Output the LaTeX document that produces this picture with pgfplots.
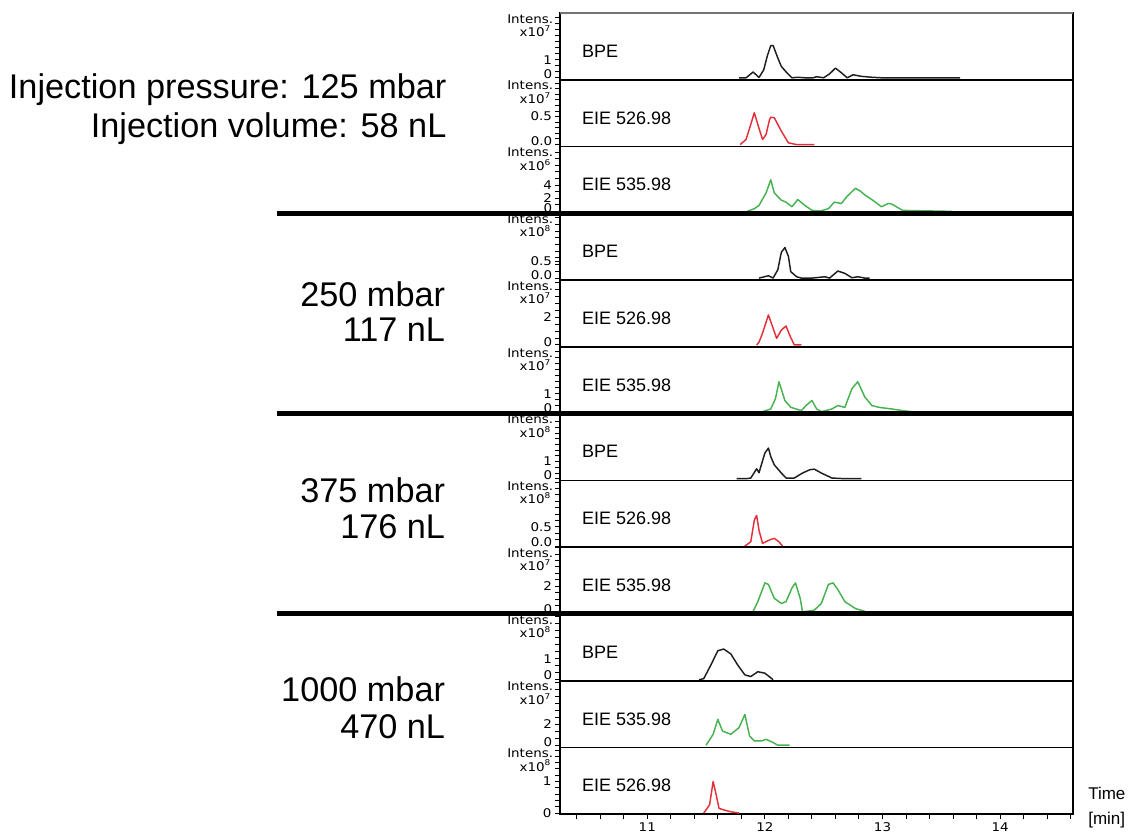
\documentclass[border=0pt]{standalone}
\usepackage{pgfplots}
\pgfplotsset{compat=1.18}
\usepackage{pgfplotstable}
\usepackage{fontspec}
\setmainfont{Liberation Sans}
\newfontfamily\tickfam{DejaVu Sans}[FakeStretch=1.12]
\newcommand\tickfont{\tickfam\fontsize{9}{10}\selectfont}
\newcommand\labfont{\fontsize{13.5}{15}\selectfont}
\newcommand\bigfont{\fontsize{25.7}{30}\selectfont}
\definecolor{trblack}{RGB}{30,30,30}
\definecolor{trred}{RGB}{228,48,58}
\definecolor{trgreen}{RGB}{70,178,80}

% ---- group 1: 125 mbar ----
\pgfplotstableread{
t v
11.78 0
11.84 0
11.90 0.32
11.95 0.02
11.99 0.44
12.02 1.2
12.05 1.79
12.07 1.79
12.11 1.1
12.14 0.63
12.18 0.33
12.23 0
12.28 0.03
12.34 0
12.41 0
12.44 0.06
12.50 0
12.55 0.22
12.60 0.54
12.65 0.28
12.70 0
12.75 0.17
12.82 0.08
12.91 0.03
12.99 0
13.66 0
}\dA
\pgfplotstableread{
t v
11.79 0
11.84 0.09
11.88 0.36
11.91 0.57
11.94 0.36
11.98 0.09
12.01 0.18
12.04 0.45
12.05 0.49
12.08 0.48
12.11 0.36
12.14 0.24
12.20 0.03
12.27 0
12.42 0
}\dB
\pgfplotstableread{
t v
11.85 0
11.91 0.4
11.95 0.9
12.01 2.8
12.05 4.8
12.08 2.8
12.14 1.7
12.18 1.4
12.23 0.7
12.28 1.8
12.34 0.9
12.40 0.15
12.47 0.05
12.54 0.4
12.59 1.4
12.65 1.2
12.70 2.3
12.77 3.5
12.81 3.1
12.85 2.5
12.94 1.4
12.99 0.7
13.05 1.2
13.08 1.1
13.17 0.15
13.59 0
}\dC
% ---- group 2: 250 mbar ----
\pgfplotstableread{
t v
11.95 0
12.03 0.07
12.07 0
12.11 0.25
12.14 0.77
12.17 0.91
12.20 0.65
12.22 0.19
12.27 0.04
12.31 0
12.40 0
12.51 0.04
12.55 0
12.62 0.21
12.68 0.14
12.74 0.01
12.79 0.04
12.85 0
12.89 0
}\dD
\pgfplotstableread{
t v
11.93 0
11.95 0.2
11.98 0.85
12.03 2.17
12.07 1.2
12.10 0.48
12.14 1.08
12.18 1.37
12.21 0.72
12.25 0
12.31 0
}\dE
\pgfplotstableread{
t v
11.98 0
12.05 0.15
12.09 0.73
12.12 1.66
12.17 0.62
12.22 0.24
12.31 0.06
12.35 0.34
12.40 0.62
12.44 0.15
12.48 0
12.57 0.15
12.62 0.34
12.68 0.24
12.74 1.28
12.79 1.66
12.85 0.81
12.91 0.34
12.97 0.24
13.08 0.15
13.17 0.06
13.25 0
}\dF
% ---- group 3: 375 mbar ----
\pgfplotstableread{
t v
11.76 0
11.84 0
11.88 0.04
11.93 0.58
11.95 0.35
12.00 1.5
12.03 1.79
12.05 1.29
12.08 0.81
12.14 0.33
12.18 0.04
12.25 0.04
12.32 0.33
12.38 0.52
12.42 0.56
12.48 0.33
12.57 0.04
12.68 0
12.82 0
}\dG
\pgfplotstableread{
t v
11.83 0
11.88 0.11
11.91 0.67
11.93 0.8
11.95 0.41
11.98 0.07
12.04 0.16
12.08 0.2
12.12 0.11
12.15 0
}\dH
\pgfplotstableread{
t v
11.90 0.05
11.94 0.8
12.00 2.26
12.03 2.14
12.08 1.06
12.14 0.66
12.18 0.8
12.23 1.86
12.26 2.26
12.30 1.06
12.32 0
12.42 0.14
12.48 0.66
12.54 2.14
12.58 2.26
12.62 1.74
12.68 0.8
12.77 0.26
12.85 0.05
}\dI
% ---- group 4: 1000 mbar ----
\pgfplotstableread{
t v
11.44 0
11.48 0.05
11.54 0.69
11.60 1.38
11.65 1.46
11.71 1.23
11.77 0.69
11.83 0.23
11.88 0.15
11.94 0.38
12.00 0.31
12.07 0
}\dJ
\pgfplotstableread{
t v
11.50 0
11.56 1.05
11.60 2.48
11.64 1.36
11.71 1.05
11.78 1.69
11.83 2.95
11.87 0.89
11.91 0.41
11.97 0.41
12.01 0.57
12.07 0.26
12.11 0
12.21 0
}\dK
\pgfplotstableread{
t v
11.48 0
11.53 0.26
11.56 1.0
11.58 0.68
11.61 0.15
11.65 0.1
11.71 0.04
11.78 0
}\dL

\pgfplotsset{
  panel/.style={
    scale only axis, width=385pt, height=50.08pt,
    at={(419.8pt,#1)}, anchor=south west,
    xmin=10.256, xmax=14.62,
    xtick=\empty,
    ytick pos=left,
    tick align=outside,
    major tick length=3.2pt,
    major tick style={black, line width=0.75pt},
    extra y tick labels={},
    extra y tick style={tick style={black!80, line width=0.7pt}},
    axis line style={line width=1.2pt},
    yticklabel style={font=\tickfont, inner sep=0pt, xshift=-2.4pt},
    clip=false,
    /pgf/number format/assume math mode=true,
    every axis plot/.append style={line width=1.1pt, line join=round, mark=none},
  },
}
% #1 exponent, #2 trace name, #3 zero label
\newcommand\paneltext[3]{%
  \node[anchor=east,font=\tickfont,inner sep=0pt] at ([xshift=-4.8pt,yshift=-4.4pt]rel axis cs:0,1) {Intens.};
  \node[anchor=east,font=\tickfont,inner sep=0pt] at ([xshift=-6.3pt,yshift=-13.6pt]rel axis cs:0,1) {x10\textsuperscript{#1}};
  \node[anchor=west,font=\labfont,inner sep=0pt] at (rel axis cs:0.043,0.43) {#2};
  \node[anchor=east,font=\tickfont,inner sep=0pt] at ([xshift=-5.4pt,yshift=3.9pt]rel axis cs:0,0) {#3};
}

\begin{document}
\begin{tikzpicture}
\useasboundingbox (0,0) rectangle (856.5pt,624.75pt);

% 1
\begin{axis}[panel=564.91pt, ymin=-0.11, ymax=3.6, ytick={0,1}, yticklabels={,1},
  extra y ticks={0.3333,0.6667,1.3333,1.6667,2,2.3333,2.6667,3,3.3333}]
\addplot[trblack] table[x=t,y=v] {\dA};
\paneltext{7}{BPE}{0}
\draw[black!55, line width=1.1pt] (rel axis cs:0,1) -- (rel axis cs:1,1);
\end{axis}
% 2
\begin{axis}[panel=514.83pt, ymin=-0.036, ymax=1.16, ytick={0,0.5}, yticklabels={,0.5},
  extra y ticks={0.1,0.2,0.3,0.4,0.6,0.7,0.8,0.9,1.0,1.1}]
\addplot[trred] table[x=t,y=v] {\dB};
\paneltext{7}{EIE 526.98}{0.0}
\end{axis}
% 3
\begin{axis}[panel=464.75pt, ymin=-0.3, ymax=9.85, ytick={0,2,4}, yticklabels={,2,4},
  extra y ticks={1,3,5,6,7,8,9}]
\addplot[trgreen] table[x=t,y=v] {\dC};
\paneltext{6}{EIE 535.98}{0}
\end{axis}
% 4
\begin{axis}[panel=414.67pt, ymin=-0.06, ymax=1.93, ytick={0,0.5}, yticklabels={,0.5},
  extra y ticks={0.2,0.4,0.6,0.8,1.0,1.2,1.4,1.6,1.8}]
\addplot[trblack] table[x=t,y=v] {\dD};
\paneltext{8}{BPE}{0.0}
\end{axis}
% 5
\begin{axis}[panel=364.59pt, ymin=-0.14, ymax=4.69, ytick={0,2}, yticklabels={,2},
  extra y ticks={0.5,1,1.5,2.5,3,3.5,4,4.5}]
\addplot[trred] table[x=t,y=v] {\dE};
\paneltext{7}{EIE 526.98}{0}
\end{axis}
% 6
\begin{axis}[panel=314.51pt, ymin=-0.11, ymax=3.6, ytick={0,1}, yticklabels={,1},
  extra y ticks={0.3333,0.6667,1.3333,1.6667,2,2.3333,2.6667,3,3.3333}]
\addplot[trgreen] table[x=t,y=v] {\dF};
\paneltext{7}{EIE 535.98}{0}
\end{axis}
% 7
\begin{axis}[panel=264.43pt, ymin=-0.1, ymax=3.8, ytick={0,1}, yticklabels={,1},
  extra y ticks={0.3333,0.6667,1.3333,1.6667,2,2.3333,2.6667,3,3.3333,3.6667}]
\addplot[trblack] table[x=t,y=v] {\dG};
\paneltext{8}{BPE}{0}
\end{axis}
% 8
\begin{axis}[panel=214.35pt, ymin=-0.03, ymax=1.71, ytick={0,0.5}, yticklabels={,0.5},
  extra y ticks={0.1667,0.3333,0.6667,0.8333,1,1.1667,1.3333,1.5,1.6667}]
\addplot[trred] table[x=t,y=v] {\dH};
\paneltext{8}{EIE 526.98}{0.0}
\end{axis}
% 9
\begin{axis}[panel=164.27pt, ymin=-0.16, ymax=5.04, ytick={0,2}, yticklabels={,2},
  extra y ticks={0.5,1,1.5,2.5,3,3.5,4,4.5,5}]
\addplot[trgreen] table[x=t,y=v] {\dI};
\paneltext{7}{EIE 535.98}{0}
\end{axis}
% 10
\begin{axis}[panel=114.19pt, ymin=-0.05, ymax=3.13, ytick={0,1}, yticklabels={,1},
  extra y ticks={0.3333,0.6667,1.3333,1.6667,2,2.3333,2.6667,3}]
\addplot[trblack] table[x=t,y=v] {\dJ};
\paneltext{8}{BPE}{0}
\end{axis}
% 11
\begin{axis}[panel=64.11pt, ymin=-0.22, ymax=6.19, ytick={0,2}, yticklabels={,2},
  extra y ticks={0.6667,1.3333,2.6667,3.3333,4,4.6667,5.3333,6}]
\addplot[trgreen] table[x=t,y=v] {\dK};
\paneltext{7}{EIE 535.98}{0}
\end{axis}
% 12
\begin{axis}[panel=14.03pt, ymin=-0.04, ymax=2.08, ytick={0,1}, yticklabels={0,1},
  extra y ticks={0.2,0.4,0.6,0.8,1.2,1.4,1.6,1.8,2},
  xtick={11,12,13,14}, xticklabels={11,12,13,14}, xtick pos=lower,
  extra x ticks={10.4,10.6,10.8,11.2,11.4,11.6,11.8,12.2,12.4,12.6,12.8,13.2,13.4,13.6,13.8,14.2,14.4,14.6},
  extra x tick labels={},
  extra x tick style={tick style={black!80, line width=0.7pt}},
  xticklabel style={font=\tickfont, inner sep=0pt, yshift=-2.5pt},
  major tick length=3.6pt]
\addplot[trred] table[x=t,y=v] {\dL};
\paneltext{8}{EIE 526.98}{}
\end{axis}

% thick group separators
\draw[line width=3.8pt] (208pt,464.8pt) -- (805pt,464.8pt);
\draw[line width=3.8pt] (208pt,314.5pt) -- (805pt,314.5pt);
\draw[line width=3.8pt] (208pt,164.3pt) -- (805pt,164.3pt);

% group texts
\node[anchor=base east,font=\bigfont,inner sep=0pt] at (335pt,550.5pt) {Injection pressure: 125 mbar};
\node[anchor=base east,font=\bigfont,inner sep=0pt] at (335pt,521.5pt) {Injection volume: 58 nL};
\node[anchor=base east,font=\bigfont,inner sep=0pt] at (334pt,394.5pt) {250 mbar};
\node[anchor=base east,font=\bigfont,inner sep=0pt] at (334pt,368.5pt) {117 nL};
\node[anchor=base east,font=\bigfont,inner sep=0pt] at (334pt,248.1pt) {375 mbar};
\node[anchor=base east,font=\bigfont,inner sep=0pt] at (334pt,221.1pt) {176 nL};
\node[anchor=base east,font=\bigfont,inner sep=0pt] at (334pt,98.5pt) {1000 mbar};
\node[anchor=base east,font=\bigfont,inner sep=0pt] at (334pt,70.6pt) {470 nL};

\node[anchor=west,font=\fontsize{12.75}{14}\selectfont,inner sep=0pt] at (816pt,30pt) {Time};
\node[anchor=west,font=\fontsize{12.75}{14}\selectfont,inner sep=0pt] at (816pt,9.5pt) {[min]};
\end{tikzpicture}
\end{document}
